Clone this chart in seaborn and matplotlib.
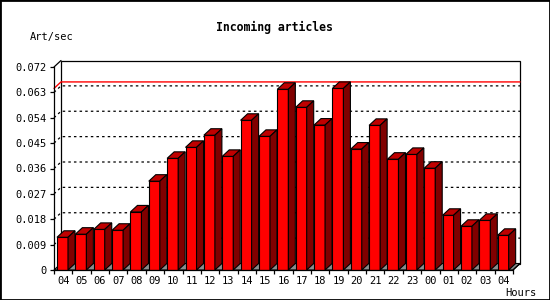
import numpy as np
import pandas as pd
import seaborn as sns
import matplotlib
matplotlib.use("Agg")
import matplotlib.pyplot as plt
from matplotlib.patches import Polygon, Rectangle
from matplotlib.lines import Line2D

# ---- data ----
hours = ["04", "05", "06", "07", "08", "09", "10", "11", "12", "13", "14", "15",
         "16", "17", "18", "19", "20", "21", "22", "23", "00", "01", "02", "03", "04"]
rates = [0.0116, 0.0127, 0.0144, 0.0141, 0.0206, 0.0315, 0.0396, 0.0435, 0.0478,
         0.0403, 0.0531, 0.0474, 0.0641, 0.0577, 0.0514, 0.0644, 0.0429, 0.0513,
         0.0393, 0.0410, 0.0361, 0.0194, 0.0155, 0.0176, 0.0123]
yticks = [0, 0.009, 0.018, 0.027, 0.036, 0.045, 0.054, 0.063, 0.072]
ytick_labels = ["0", "0.009", "0.018", "0.027", "0.036", "0.045", "0.054", "0.063", "0.072"]
title = "Incoming articles"
ylabel = "Art/sec"
xlabel = "Hours"

sns.set_theme(style="white")
plt.rcParams["font.family"] = ["DejaVu Sans Mono", "DejaVu Sans"]

W, H, DPI = 550, 300, 100
fig = plt.figure(figsize=(W / DPI, H / DPI), dpi=DPI)
fig.patch.set_facecolor("white")

ax_l, ax_b, ax_w, ax_h = 54, 30, 459, 203   # pixels
ax = fig.add_axes([ax_l / W, ax_b / H, ax_w / W, ax_h / H])
ax.set_facecolor("none")

n = len(rates)
df = pd.DataFrame({"slot": np.arange(n), "rate": rates})
sns.barplot(data=df, x="slot", y="rate", color="#ff0000", saturation=1,
            width=0.6, edgecolor="black", linewidth=0.8, ax=ax, zorder=3)

ax.set_xlim(-0.5, n - 0.5)
ymax = yticks[-1]
ax.set_ylim(0, ymax)

# 3D offsets (pixels -> data units)
DX_PX, DY_PX = 7.0, 6.5
dxd = DX_PX / (ax_w / n)
dyd = DY_PX / (ax_h / ymax)

x0, x1 = -0.5, n - 0.5

# back panel
ax.add_patch(Rectangle((x0 + dxd, dyd), n, ymax, fill=False, edgecolor="black",
                       linewidth=0.9, zorder=0.8, clip_on=False))
# top-left diagonal
ax.add_line(Line2D([x0, x0 + dxd], [ymax, ymax + dyd], color="black", lw=0.9,
                   zorder=0.8, clip_on=False))

# dotted gridlines on the back wall
for v in yticks[1:-1]:
    ax.add_line(Line2D([x0, x0 + dxd, x1 + dxd], [v, v + dyd, v + dyd], color="black",
                       lw=0.9, linestyle=(0, (2, 2.5)), zorder=0.9, clip_on=False))

# max line (red) on the back wall
vmax = max(rates)
ax.add_line(Line2D([x0, x0 + dxd, x1 + dxd], [vmax, vmax + dyd, vmax + dyd], color="#ff0000",
                   lw=1.0, zorder=0.95, clip_on=False))

# floor
ax.add_patch(Polygon([(x0, 0), (x1, 0), (x1 + dxd, dyd), (x0 + dxd, dyd)], closed=True,
                     facecolor="#8c8c8c", edgecolor="black", linewidth=0.8, zorder=1.0,
                     clip_on=False))

# 3D faces for each bar
for p in list(ax.patches):
    if not isinstance(p, Rectangle) or p.get_height() <= 0 or tuple(p.get_facecolor()[:3]) != (1.0, 0.0, 0.0):
        continue
    p.set_x(p.get_x() - 0.037)
    bx0 = p.get_x()
    bx1 = bx0 + p.get_width()
    h = p.get_height()
    ax.add_patch(Polygon([(bx0, h), (bx1, h), (bx1 + dxd, h + dyd), (bx0 + dxd, h + dyd)],
                         closed=True, facecolor="#c00000", edgecolor="black", linewidth=0.8,
                         zorder=3, clip_on=False))
    ax.add_patch(Polygon([(bx1, 0), (bx1 + dxd, dyd), (bx1 + dxd, h + dyd), (bx1, h)],
                         closed=True, facecolor="#800000", edgecolor="black", linewidth=0.8,
                         zorder=3, clip_on=False))

# spines
for s in ["top", "right"]:
    ax.spines[s].set_visible(False)
for s in ["left", "bottom"]:
    ax.spines[s].set_visible(True)
    ax.spines[s].set_color("black")
    ax.spines[s].set_linewidth(0.9)
    ax.spines[s].set_zorder(4)
# bottom-right diagonal of floor
ax.add_line(Line2D([x1, x1 + dxd], [0, dyd], color="black", lw=0.9, zorder=4, clip_on=False))

# ticks
ax.set_yticks(yticks)
ax.set_yticklabels(ytick_labels)
ax.set_xticks(np.arange(-0.5, n, 1.0))
ax.set_xticklabels([])
ax.set_xticks(np.arange(n), minor=True)
ax.set_xticklabels(hours, minor=True)
ax.tick_params(axis="y", which="major", direction="out", length=3, width=0.9, pad=2,
               labelsize=7.5, colors="black", left=True)
ax.tick_params(axis="x", which="major", direction="out", length=3, width=0.9,
               colors="black", bottom=True)
ax.tick_params(axis="x", which="minor", length=0, pad=4, labelsize=7.5, colors="black",
               bottom=True)
ax.set_xlabel("")
ax.set_ylabel("")
ax.grid(False)

fig.text(274 / W, 1 - 27 / H, title, ha="center", va="center", fontsize=8.3,
         fontweight="bold", color="black")
fig.text(30 / W, 1 - 37 / H, ylabel, ha="left", va="center", fontsize=7.5, color="black")
fig.text(505 / W, 1 - 293 / H, xlabel, ha="left", va="center", fontsize=7.5, color="black")

# outer frame
fig.patches.append(Rectangle((0, 0), 1, 1, transform=fig.transFigure, fill=False,
                             edgecolor="black", linewidth=2, zorder=10))

fig.savefig("out.png", dpi=DPI, facecolor="white")
